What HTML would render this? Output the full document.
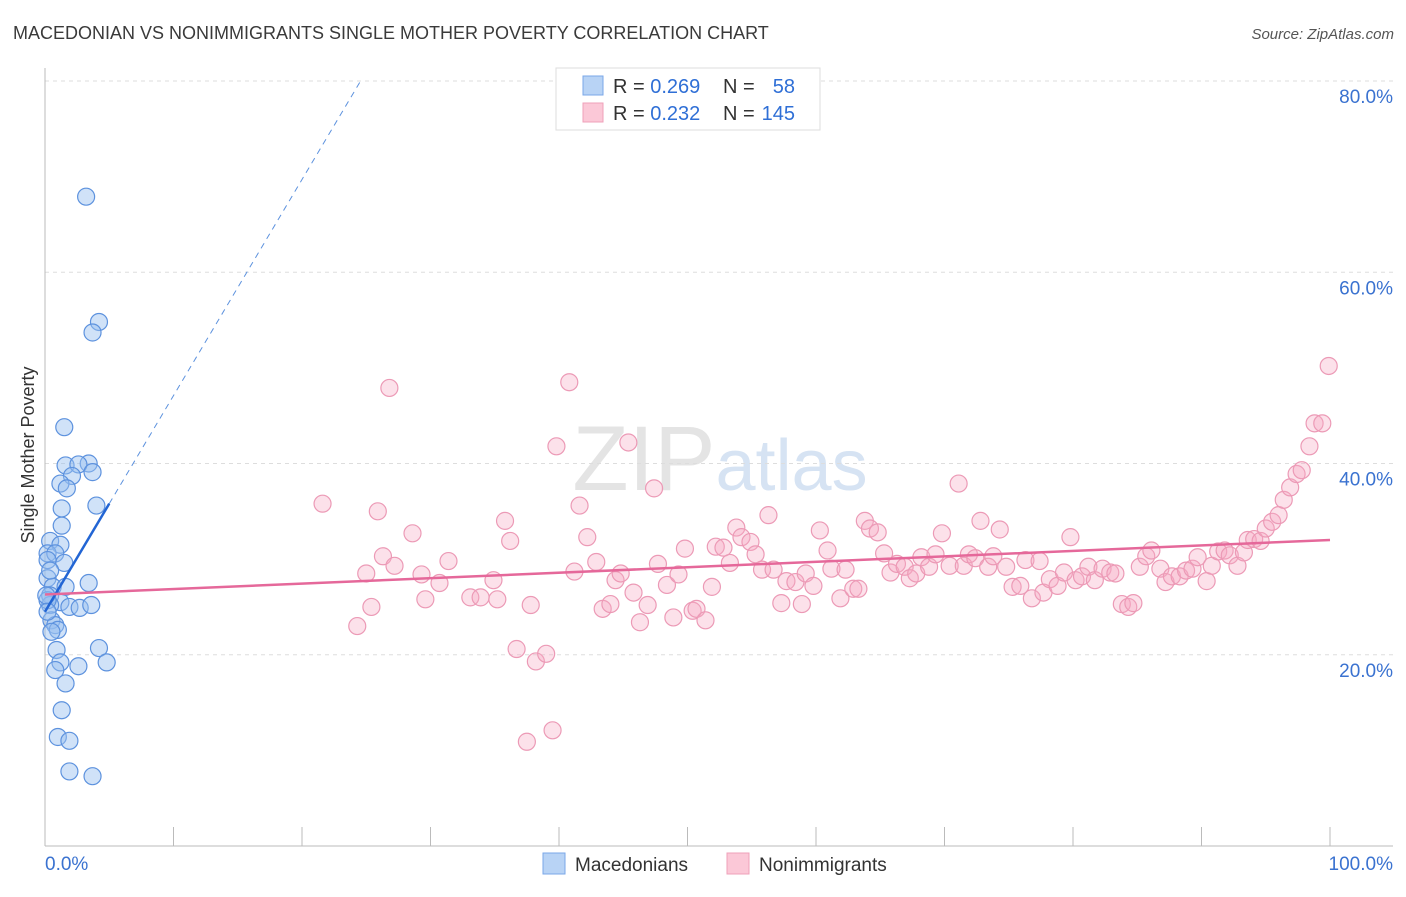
<!DOCTYPE html>
<html><head><meta charset="utf-8"><style>
body{margin:0;background:#fff;font-family:"Liberation Sans",sans-serif;}
svg text{font-family:"Liberation Sans",sans-serif;}
</style></head><body>
<svg id="chart" width="1406" height="892" xmlns="http://www.w3.org/2000/svg">
<text x="13" y="39" font-size="18" fill="#3a3a3a">MACEDONIAN VS NONIMMIGRANTS SINGLE MOTHER POVERTY CORRELATION CHART</text>
<text x="1394" y="39" font-size="15" fill="#555" text-anchor="end" font-style="italic">Source: ZipAtlas.com</text>
<text x="720" y="490" font-size="92" fill="#e4e4e4" text-anchor="middle" font-family="Liberation Serif"><tspan>ZIP</tspan><tspan fill="#d6e3f3" font-family="Liberation Sans" font-size="72">atlas</tspan></text>
<g id="grid"></g>
<g id="axes"></g>
<g id="marks"></g>
<text transform="translate(34,455) rotate(-90)" font-size="18" fill="#333" text-anchor="middle">Single Mother Poverty</text>
<g>
<rect x="556" y="68" width="264" height="62" fill="#fff" stroke="#ddd"/>
<rect x="583" y="76" width="20" height="19" fill="#b8d3f5" stroke="#7aa7e8"/>
<rect x="583" y="103" width="20" height="19" fill="#fbc8d7" stroke="#efa0ba"/>
<text x="613" y="93" font-size="20" fill="#333">R = <tspan fill="#2f6fd6">0.269</tspan></text>
<text x="723" y="93" font-size="20" fill="#333">N = </text><text x="795" y="93" font-size="20" fill="#2f6fd6" text-anchor="end">58</text>
<text x="613" y="120" font-size="20" fill="#333">R = <tspan fill="#2f6fd6">0.232</tspan></text>
<text x="723" y="120" font-size="20" fill="#333">N = </text><text x="795" y="120" font-size="20" fill="#2f6fd6" text-anchor="end">145</text>
</g>
<g>
<rect x="543" y="853" width="22" height="21" fill="#b8d3f5" stroke="#7aa7e8"/>
<text x="575" y="871" font-size="19" fill="#333">Macedonians</text>
<rect x="727" y="853" width="22" height="21" fill="#fbc8d7" stroke="#efa0ba"/>
<text x="759" y="871" font-size="19" fill="#333">Nonimmigrants</text>
</g>
</svg>
<script>
const blueX=[3.2,4.2,3.7,1.5,1.6,3.4,2.6,2.1,1.2,1.7,3.7,4.0,1.3,1.3,0.4,1.2,0.2,0.8,1.5,0.2,0.6,1.6,3.4,0.4,1.2,0.4,1.9,2.7,3.6,0.5,0.8,1.0,0.5,0.9,4.2,1.2,4.8,0.8,2.6,1.6,1.3,1.0,1.9,1.9,3.7,0.2,0.1,0.2,0.2,0.4];
const blueY=[67.9,54.8,53.7,43.8,39.8,40.0,39.9,38.7,37.9,37.4,39.1,35.6,35.3,33.5,31.9,31.5,30.6,30.6,29.6,28.0,27.1,27.1,27.5,26.2,25.5,25.2,25.0,24.9,25.2,23.6,23.1,22.6,22.4,20.5,20.7,19.2,19.2,18.4,18.8,17.0,14.2,11.4,11.0,7.8,7.3,25.7,26.2,24.5,29.9,28.8];
const pinkX=[21.6,24.3,25.0,25.4,25.9,26.3,26.8,27.2,28.6,29.3,29.6,30.7,31.4,33.1,33.9,34.9,35.2,35.8,36.2,36.7,37.8,38.2,39.0,37.5,39.5,39.8,40.8,41.6,42.2,41.2,42.9,43.4,44.0,44.4,44.8,45.4,45.8,46.3,46.9,47.4,47.7,48.4,48.9,49.3,49.8,50.4,50.7,51.4,51.9,52.2,52.8,53.3,53.8,54.2,54.9,55.3,55.8,56.3,56.7,57.3,57.7,58.4,58.9,59.2,59.8,60.3,60.9,61.2,61.9,62.3,62.9,63.3,63.8,64.2,64.8,65.3,65.8,66.3,66.9,67.3,67.8,68.2,68.8,69.3,69.8,70.4,71.1,71.5,71.9,72.4,72.8,73.4,73.8,74.3,74.8,75.3,75.9,76.3,76.8,77.4,77.7,78.2,78.8,79.3,79.8,80.2,80.7,81.2,81.7,82.3,82.9,83.3,83.8,84.3,84.7,85.2,85.7,86.1,86.8,87.2,87.7,88.3,88.8,89.3,89.7,90.4,90.8,91.3,91.8,92.2,92.8,93.3,93.6,94.1,94.6,95.0,95.5,96.0,96.4,96.9,97.4,97.8,98.4,98.8,99.4,99.9];
const pinkY=[35.8,23.0,28.5,25.0,35.0,30.3,47.9,29.3,32.7,28.4,25.8,27.5,29.8,26.0,26.0,27.8,25.8,34.0,31.9,20.6,25.2,19.3,20.1,10.9,12.1,41.8,48.5,35.6,32.3,28.7,29.7,24.8,25.3,27.8,28.5,42.2,26.5,23.4,25.2,37.4,29.5,27.3,23.9,28.4,31.1,24.6,24.8,23.6,27.1,31.3,31.2,29.6,33.3,32.3,31.8,30.5,28.9,34.6,28.9,25.4,27.7,27.6,25.3,28.5,27.2,33.0,30.9,29.0,25.9,28.9,26.9,26.9,34.0,33.2,32.8,30.6,28.6,29.5,29.2,28.0,28.5,30.2,29.2,30.5,32.7,29.3,37.9,29.3,30.5,30.1,34.0,29.2,30.3,33.1,29.2,27.1,27.2,29.9,25.9,29.8,26.5,27.9,27.2,28.6,32.3,27.8,28.2,29.2,27.8,29.0,28.6,28.5,25.3,25.0,25.4,29.2,30.3,30.9,29.0,27.6,28.2,28.2,28.8,29.0,30.2,27.7,29.3,30.8,30.9,30.4,29.3,30.7,32.0,32.1,31.9,33.2,33.9,34.6,36.2,37.5,38.9,39.3,41.8,44.2,44.2,50.2];
const yTicks=[20,40,60,80];
const blueTrend=[24.5,2.26]; // intercept, slope
const pinkTrend=[26.3,0.057];
const NS="http://www.w3.org/2000/svg";
const X0=45,X1=1330,Y0=846,Y80=81;
const sx=v=>X0+v*(X1-X0)/100;
const sy=v=>Y0-v*(Y0-Y80)/80;
function mk(tag,attrs,parent){const e=document.createElementNS(NS,tag);for(const k in attrs)e.setAttribute(k,attrs[k]);parent.appendChild(e);return e;}
const grid=document.getElementById('grid'),axes=document.getElementById('axes'),marks=document.getElementById('marks');
yTicks.forEach(t=>{
 const l=mk('line',{x1:X0,x2:1393,y1:sy(t),y2:sy(t),stroke:'#ddd','stroke-dasharray':'4,4'},grid);
 
 
 const tx=mk('text',{x:1393,y:sy(t)+22,'font-size':19,fill:'#3a72d0','text-anchor':'end'},grid);
 tx.textContent=t.toFixed(1)+'%';
 
 
});
const ya=mk('line',{x1:X0,x2:X0,y1:68,y2:Y0,stroke:'#bbb'},axes);


const xa=mk('line',{x1:X0,x2:1393,y1:Y0,y2:Y0,stroke:'#bbb'},axes);


for(let i=1;i<=10;i++){const t=mk('line',{x1:sx(i*10),x2:sx(i*10),y1:Y0-19,y2:Y0,stroke:'#bbb'},axes);
 
 }
const xl0=mk('text',{x:X0,y:870,'font-size':19,fill:'#3a72d0'},axes);xl0.textContent='0.0%';


const xl1=mk('text',{x:1393,y:870,'font-size':19,fill:'#3a72d0','text-anchor':'end'},axes);xl1.textContent='100.0%';


pinkX.forEach((v,i)=>{const c=mk('circle',{cx:sx(v),cy:sy(pinkY[i]),r:8.5,fill:'rgba(246,170,196,0.35)',stroke:'#ec9ab6','stroke-width':1.2},marks);
 
 });
blueX.forEach((v,i)=>{const c=mk('circle',{cx:sx(v),cy:sy(blueY[i]),r:8.5,fill:'rgba(150,190,240,0.45)',stroke:'#5d92de','stroke-width':1.2},marks);
 
 });
const bEnd=(80-blueTrend[0])/blueTrend[1];
const bd=mk('line',{x1:sx(5),y1:sy(blueTrend[0]+5*blueTrend[1]),x2:sx(bEnd),y2:sy(80),stroke:'#5d92de','stroke-dasharray':'6,5','stroke-width':1},marks);


const bl=mk('line',{x1:sx(0),y1:sy(blueTrend[0]),x2:sx(5),y2:sy(blueTrend[0]+5*blueTrend[1]),stroke:'#2265d4','stroke-width':2.5},marks);


const pl=mk('line',{x1:sx(0),y1:sy(pinkTrend[0]),x2:sx(100),y2:sy(pinkTrend[0]+100*pinkTrend[1]),stroke:'#e5689a','stroke-width':2.5},marks);


</script>
</body></html>
